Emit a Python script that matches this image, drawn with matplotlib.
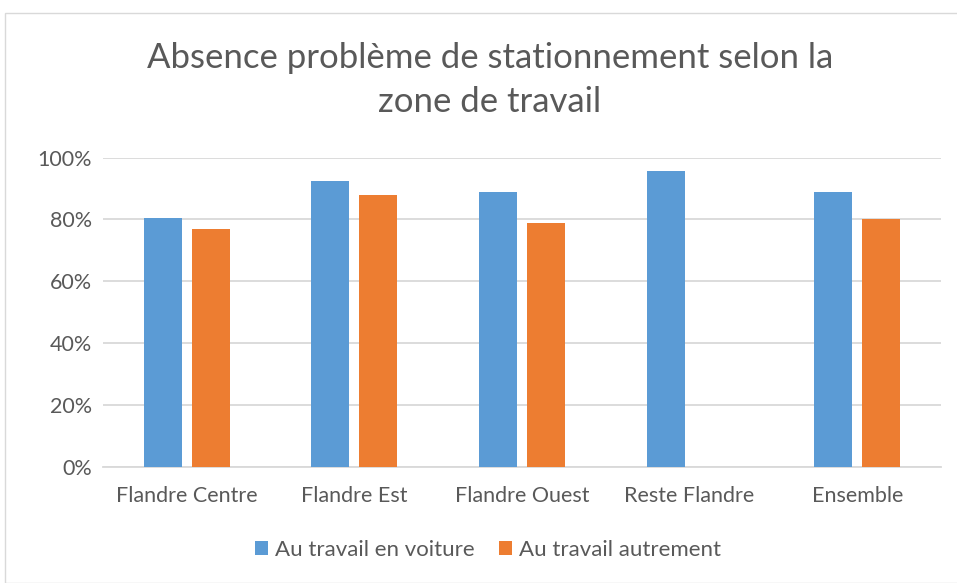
import numpy as np
import matplotlib.pyplot as plt
from matplotlib.patches import Rectangle

plt.rcParams.update({
    "font.family": ["Lato", "DejaVu Sans"],
    "text.color": "#595959",
    "xtick.color": "#595959",
    "ytick.color": "#595959",
})

categories = ["Flandre Centre", "Flandre Est", "Flandre Ouest", "Reste Flandre", "Ensemble"]
voiture = [0.804, 0.924, 0.887, 0.957, 0.887]
autrement = [0.769, 0.879, 0.789, np.nan, 0.802]
series_names = ["Au travail en voiture", "Au travail autrement"]
colors = ["#5B9BD5", "#ED7D31"]

W, H = 957, 583
fig = plt.figure(figsize=(W / 100, H / 100), dpi=100)

# outer chart frame
fig.patches.append(Rectangle((5 / W, 0), 1.0, 1 - 13 / H, transform=fig.transFigure,
                             fill=False, edgecolor="#D9D9D9", linewidth=1.0))

ax = fig.add_axes([103 / W, 1 - 466.7 / H, (941 - 103) / W, (466.7 - 157.5) / H])

x = np.arange(len(categories))
bw = 0.227
off = 0.143
ax.bar(x - off, voiture, bw, color=colors[0], label=series_names[0], zorder=3)
ax.bar(x + off, autrement, bw, color=colors[1], label=series_names[1], zorder=3)

ax.set_xlim(-0.5, len(categories) - 0.5)
ax.set_ylim(0, 1.0)
ax.set_yticks(np.arange(0, 1.01, 0.2))
ax.set_yticklabels([f"{int(round(v * 100))}%" for v in np.arange(0, 1.01, 0.2)])
ax.set_xticks(x)
ax.set_xticklabels(categories)
ax.tick_params(axis="both", length=0, labelsize=15.5)
ax.tick_params(axis="y", pad=8)
ax.tick_params(axis="x", pad=14)
ax.grid(axis="y", color="#D9D9D9", linewidth=1.3, zorder=0)
for s in ["top", "right", "left"]:
    ax.spines[s].set_visible(False)
ax.spines["bottom"].set_color("#D9D9D9")
ax.spines["bottom"].set_linewidth(1.3)

fig.text(490 / W, 1 - 80 / H, "Absence problème de stationnement selon la\nzone de travail",
         ha="center", va="center", fontsize=25, linespacing=1.5, color="#595959")

fig.legend(loc="center", bbox_to_anchor=(488 / W, 1 - 550 / H), ncol=2, frameon=False,
           fontsize=16, handlelength=0.6, handleheight=0.6, handletextpad=0.3,
           columnspacing=1.1)

fig.savefig("out.png", dpi=100)
